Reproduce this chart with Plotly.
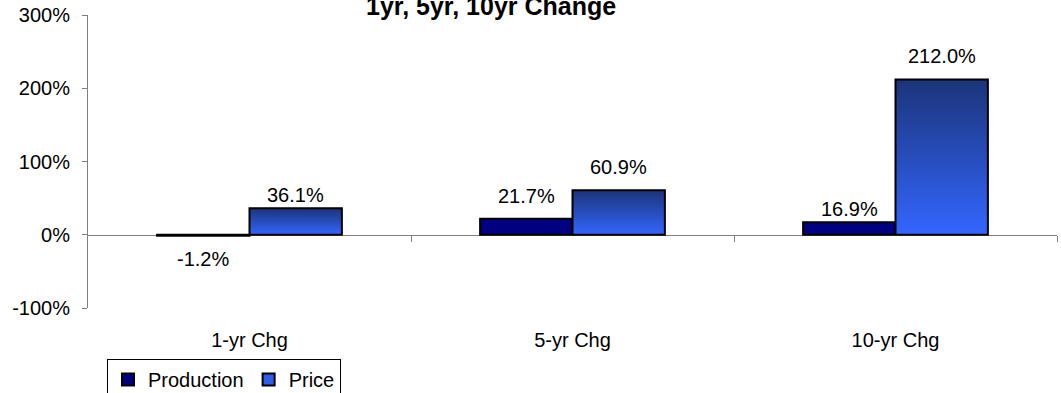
import plotly.graph_objects as go

categories = ["1-yr Chg", "5-yr Chg", "10-yr Chg"]
production = [-0.012, 0.217, 0.169]
price = [0.361, 0.609, 2.120]
title_text = "1yr, 5yr, 10yr Change"
y_tickvals = [-1, 0, 1, 2, 3]
y_ticktext = [f"{int(round(v * 100))}%" for v in y_tickvals]

# label offsets (px) above/below bar ends, as placed in the reference
production_label_shift = [-10, 10, 0]
price_label_shift = [0, 10, 10]

FONT = "Liberation Sans, Arial, sans-serif"
BW = 0.286  # bar width in category units
xs = list(range(len(categories)))

fig = go.Figure()

# Production bars (left of category centre)
fig.add_trace(go.Bar(
    x=xs, y=production, width=BW, offset=-BW, name="Production",
    marker=dict(color="#000080", line=dict(color="black", width=2)),
    hoverinfo="skip",
))

# legend entry for Price (drawn as a bar swatch)
fig.add_trace(go.Bar(
    x=[None], y=[None], name="Price",
    marker=dict(color="#2f5ee8", line=dict(color="black", width=2)),
    hoverinfo="skip",
))

# Price bars (right of centre) with vertical gradient fill
for i, v in enumerate(price):
    fig.add_trace(go.Scatter(
        x=[i, i, i + BW, i + BW, i], y=[0, v, v, 0, 0],
        mode="lines", fill="toself",
        fillgradient=dict(type="vertical",
                          colorscale=[[0, "#3366ff"], [1, "#1b3479"]]),
        line=dict(color="black", width=2),
        showlegend=False, hoverinfo="skip",
    ))

# helper trace for the zero axis with boundary ticks
fig.add_trace(go.Scatter(x=[xs[0]], y=[0], xaxis="x2", mode="markers",
                         marker=dict(opacity=0), showlegend=False,
                         hoverinfo="skip"))

# value labels
for i, v in enumerate(production):
    fig.add_annotation(x=i - BW / 2, y=v, text=f"{v*100:.1f}%", showarrow=False,
                       yanchor="bottom" if v >= 0 else "top",
                       yshift=production_label_shift[i],
                       font=dict(family=FONT, size=20, color="black"))
for i, v in enumerate(price):
    fig.add_annotation(x=i + BW / 2, y=v, text=f"{v*100:.1f}%", showarrow=False,
                       yanchor="bottom", yshift=price_label_shift[i],
                       font=dict(family=FONT, size=20, color="black"))

# title (partly clipped by the top edge, as in the reference)
fig.add_annotation(x=(491 - 88) / 969, y=1 + (15 - 22) / 293, xref="paper", yref="paper",
                   text="<b>" + title_text + "</b>", showarrow=False,
                   xanchor="center", yanchor="bottom",
                   font=dict(family=FONT, size=25, color="black"))

fig.update_layout(
    width=1061, height=393,
    margin=dict(l=88, r=4, t=15, b=85, autoexpand=False),
    paper_bgcolor="white", plot_bgcolor="white",
    font=dict(family=FONT, size=20, color="black"),
    barmode="overlay",
    xaxis=dict(range=[-0.5, 2.5], tickvals=xs, ticktext=categories,
               showline=False, showgrid=False, zeroline=False, ticks="",
               ticklabelstandoff=18, tickfont=dict(size=20), automargin=False),
    xaxis2=dict(range=[-0.5, 2.5], overlaying="x", anchor="free", position=0.25,
                side="bottom", showline=True, linecolor="#808080", linewidth=1,
                ticks="outside", ticklen=6, tickcolor="#808080",
                tickvals=[0.5, 1.5, 2.5], showticklabels=False,
                showgrid=False, zeroline=False, layer="below traces",
                automargin=False),
    yaxis=dict(range=[-1, 3], tickvals=y_tickvals, ticktext=y_ticktext,
               showline=True, linecolor="#808080", linewidth=1,
               ticks="outside", ticklen=5, tickcolor="#808080",
               showgrid=False, zeroline=False, ticklabelstandoff=8,
               tickfont=dict(size=20), automargin=False),
    legend=dict(orientation="h", xref="container", yref="container",
                x=107 / 1061, xanchor="left",
                y=1 - 359 / 393, yanchor="top",
                bordercolor="black", borderwidth=1, bgcolor="white",
                font=dict(family=FONT, size=20), itemwidth=30,
                tracegroupgap=0, traceorder="normal"),
    showlegend=True,
)

fig.write_html("out.html", config={"displayModeBar": False},
               post_script="document.body.style.margin='0';document.body.style.overflow='hidden';")
